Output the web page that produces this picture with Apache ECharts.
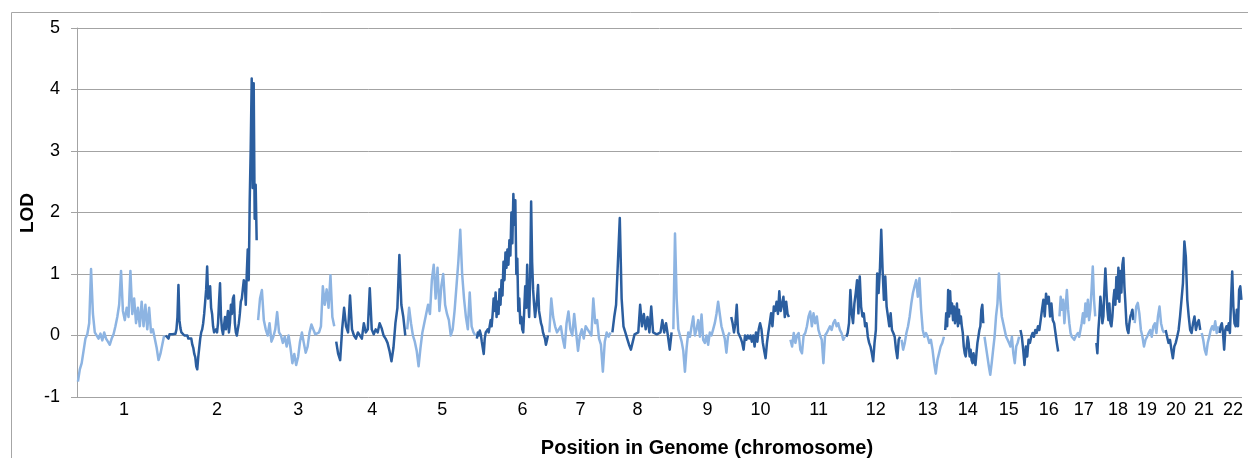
<!DOCTYPE html>
<html>
<head>
<meta charset="utf-8">
<script src="https://cdn.jsdelivr.net/npm/echarts@6/dist/echarts.min.js"></script>
<style>
html,body{margin:0;padding:0;background:#fff;}
#chart{width:1248px;height:458px;}
</style>
</head>
<body>
<div id="chart"></div>
<script>
// Chromosome names, relative lengths (genome position units) and label positions
const chromosomes = ['1','2','3','4','5','6','7','8','9','10','11','12','13','14','15','16','17','18','19','20','21','22'];
const chromLengths = [88,92,78,71,70,72,63,61,58,59,56,55,44,39,36,39,37,38,31,36,18,23];
const labelPositions = [47,140,221,295,365,445,503,560,630,683,741,798,850,890,931,971,1006,1040,1069,1098,1126,1155];
const yTicks = [-1,0,1,2,3,4,5];

// LOD values along each chromosome
const lod1 = [-0.75,-0.55,-0.45,-0.25,-0.05,0.02,0.2,1.08,0.35,0.05,0.02,-0.05,0.03,-0.08,0.05,-0.05,-0.1,-0.15,-0.05,0.02,0.15,0.3,0.5,1.05,0.4,0.25,0.45,0.3,1.05,0.35,0.6,0.2,0.45,0.15,0.55,0.15,0.5,0.1,0.45,0.05,0.1,-0.05,-0.2,-0.4,-0.3,-0.15,0.0];
const lod2 = [0.0,-0.02,0.03,-0.05,0.02,0.0,0.04,0.02,0.05,0.0,0.03,0.1,0.3,0.82,0.25,0.12,0.05,0.02,0.04,0.0,0.02,-0.02,0.0,-0.05,-0.02,-0.08,-0.05,-0.15,-0.2,-0.3,-0.35,-0.5,-0.55,-0.35,-0.2,-0.05,0.05,0.1,0.2,0.35,0.55,0.75,1.12,0.6,0.75,0.8,0.45,0.35,0.15,0.05,0.02,0.1,0.05,0.2,0.55,0.85,0.3,0.1,0.02,0.15,0.3,0.1,0.25,0.4,0.05,0.2,0.5,0.35,0.6,0.65,0.2,0.05,0.0,0.1,0.2,0.35,0.55,0.6,0.75,0.9,0.85,0.5,1.0,1.4,0.9,2.2,3.05,4.18,2.4,4.1,1.9,2.45,1.55];
const lod3 = [0.25,0.6,0.74,0.25,0.1,0.0,0.2,-0.1,-0.02,0.1,0.38,0.05,0.0,-0.12,-0.02,-0.18,0.0,-0.2,-0.45,-0.3,-0.48,-0.35,-0.1,0.05,-0.12,-0.28,-0.18,0.05,0.18,0.1,0.02,0.0,0.05,0.15,0.8,0.5,0.75,0.45,0.98,0.3,0.15];
const lod4 = [-0.1,-0.3,-0.4,0.1,0.45,0.15,0.05,0.65,0.1,0.0,-0.05,0.05,0.08,-0.05,0.2,0.05,0.1,0.77,0.1,0.02,0.1,0.05,0.2,0.12,0.0,-0.05,-0.12,-0.25,-0.42,-0.2,0.2,0.45,1.31,0.5,0.3,0.0];
const lod5 = [0.1,0.45,0.2,0.0,-0.1,-0.25,-0.5,-0.2,0.05,0.2,0.35,0.5,0.35,0.9,1.15,0.6,1.1,0.4,0.8,1.0,0.5,0.35,0.25,0.0,0.1,0.4,0.8,1.2,1.72,1.0,0.6,0.3,0.1,0.7,0.15,0.05,0.0];
const lod6 = [-0.05,0.05,0.0,0.08,0.02,-0.1,-0.2,-0.3,-0.05,0.05,0.02,0.1,0.05,0.15,0.25,0.15,0.35,0.6,0.4,0.7,0.3,0.55,0.35,0.75,0.5,0.9,0.65,1.2,0.9,1.35,1.1,1.4,1.15,1.55,1.3,2.0,1.5,2.3,1.8,2.2,1.0,1.25,0.4,0.6,0.2,0.3,0.1,0.05,0.4,0.8,0.45,1.15,0.6,0.3,0.9,2.18,1.2,0.75,0.5,0.3,0.45,0.6,0.82,0.4,0.3,0.2,0.15,0.05,0.0,-0.05,-0.15,-0.08,0.0];
const lod7 = [0.05,0.6,0.3,0.15,0.05,0.02,0.15,-0.05,-0.2,0.2,0.39,0.1,0.0,0.35,0.05,-0.25,0.0,0.1,-0.05,0.15,0.1,0.05,0.0,0.6,0.2,0.25,-0.05,-0.15,-0.59,-0.1,0.05,-0.02,0.05];
const lod8 = [0.05,0.3,0.5,1.2,1.91,0.6,0.15,0.05,-0.05,-0.15,-0.23,-0.2,0.02,0.0,0.05,0.5,0.15,0.35,0.1,0.3,0.05,0.47,0.05,0.08,0.02,0.0,0.05,0.25,0.05,0.2,0.0,-0.23,0.05];
const lod9 = [0.1,1.66,0.6,0.1,0.0,-0.1,-0.25,-0.59,-0.2,0.05,-0.02,0.15,0.31,0.0,0.1,0.25,-0.02,0.34,-0.07,-0.12,0.0,-0.15,0.05,0.0,0.1,0.2,0.35,0.55,0.35,0.15,0.05,-0.05,-0.28,0.0,0.05];
const lod10 = [0.3,0.2,0.05,0.2,0.5,0.05,0.0,-0.05,-0.12,-0.23,0.0,-0.07,0.0,-0.05,0.0,-0.1,0.0,-0.18,0.05,-0.1,0.1,0.2,0.1,-0.12,-0.25,-0.37,-0.12,0.05,0.2,0.36,0.15,0.47,0.4,0.55,0.35,0.72,0.4,0.5,0.63,0.3,0.55,0.35,0.3];
const lod11 = [-0.07,-0.18,0.04,-0.12,0.0,0.04,-0.23,-0.29,0.0,0.04,0.15,0.31,0.39,0.15,0.36,0.2,0.31,0.09,0.0,-0.07,-0.45,0.0,0.04,0.07,0.15,0.09,0.2,0.25,0.15,0.2,0.09,0.04,-0.07,-0.02];
const lod12 = [-0.02,0.04,0.2,0.74,0.36,0.2,0.52,0.69,0.9,0.36,0.96,0.47,0.31,0.36,0.15,0.2,-0.02,-0.12,-0.18,-0.29,-0.42,-0.12,0.09,1.01,0.69,1.07,1.72,1.07,0.58,0.96,0.47,0.31,0.15,0.36,0.09,0.04,-0.02,-0.23,-0.37,-0.07,-0.02];
const lod13 = [-0.07,-0.23,-0.12,0.04,0.15,0.31,0.52,0.69,0.8,0.9,0.63,0.93,0.42,0.09,-0.02,0.04,-0.02,-0.12,-0.07,-0.23,-0.45,-0.62,-0.4,-0.29,-0.18,-0.12,-0.02];
const lod14 = [0.09,0.36,0.15,0.74,0.31,0.72,0.36,0.52,0.25,0.47,0.2,0.31,0.52,0.15,0.42,0.2,0.31,0.15,0.04,-0.18,-0.29,-0.34,-0.18,-0.02,-0.12,-0.34,-0.23,-0.4,-0.45,-0.29,-0.4,-0.48,-0.29,-0.12,-0.02,0.09,0.15,0.42,0.5,0.2];
const lod15 = [-0.02,-0.18,-0.34,-0.5,-0.64,-0.45,-0.23,-0.02,0.31,0.52,1.01,0.58,0.31,0.2,0.09,-0.02,-0.07,-0.12,-0.18,-0.02,-0.29,-0.45,-0.18,-0.12,-0.02];
const lod16 = [0.09,-0.02,-0.23,-0.48,-0.18,-0.34,-0.07,-0.12,-0.02,0.04,-0.02,0.09,0.04,0.15,0.09,0.25,0.42,0.58,0.31,0.68,0.52,0.63,0.31,0.52,0.25,0.2,0.04,-0.12,-0.26];
const lod17 = [0.31,0.63,0.42,0.58,0.2,0.47,0.74,0.42,0.2,0.04,-0.02,-0.04,-0.07,-0.02,-0.04,0.04,-0.02,0.09,0.2,0.36,0.2,0.52,0.31,0.58,0.25,0.42,0.74,1.12,0.58,0.31];
const lod18 = [-0.12,-0.29,0.09,0.31,0.63,0.47,0.2,0.31,0.74,1.09,0.74,0.42,0.25,0.52,0.2,0.15,0.31,0.58,0.74,0.5,0.95,0.6,1.1,0.55,1.05,0.7,1.15,1.26,0.8,0.52,0.2,0.09,0.04,0.2,0.31,0.36,0.42,0.25];
const lod19 = [0.2,0.47,0.53,0.36,0.09,-0.02,-0.18,-0.07,-0.02,0.04,0.09,-0.02,0.15,0.2,0.04,0.31,0.47,0.2,0.09,0.04];
const lod20 = [0.09,-0.02,-0.12,-0.07,-0.23,-0.37,-0.18,-0.12,-0.02,0.09,0.31,0.58,0.85,1.53,1.28,0.58,0.31,0.09,0.04,0.2,0.31,0.09,0.2,0.25,0.09];
const lod21 = [0.04,-0.07,-0.23,-0.31,-0.12,-0.02,0.09,0.15,0.09,0.23,0.04,0.15];
const lod22 = [0.04,0.15,0.2,0.04,-0.23,0.09,0.15,0.09,0.2,0.04,0.58,1.04,0.47,0.2,0.15,0.42,0.15,0.74,0.8,0.58];

const lodByChrom = [lod1,lod2,lod3,lod4,lod5,lod6,lod7,lod8,lod9,lod10,lod11,lod12,lod13,lod14,lod15,lod16,lod17,lod18,lod19,lod20,lod21,lod22];

const lightBlue = '#8db4e2';
const darkBlue = '#2b5e9f';
const gridColor = '#a3a3a3';
const fontFam = '"Liberation Sans", Arial, sans-serif';

const genomeLength = chromLengths.reduce((a, b) => a + b, 0);
let start = 0;
const series = lodByChrom.map((vals, k) => {
  const len = chromLengths[k];
  const n = vals.length;
  const s0 = start;
  start += len;
  return {
    type: 'line',
    name: 'chr' + chromosomes[k],
    showSymbol: false,
    symbol: 'none',
    smooth: false,
    animation: false,
    clip: false,
    lineStyle: { width: 2.5, color: k % 2 === 0 ? lightBlue : darkBlue, join: 'round' },
    data: vals.map((v, i) => [s0 + (i + 0.5) * len / n, v])
  };
});

const chart = echarts.init(document.getElementById('chart'), null, { renderer: 'canvas' });
chart.setOption({
  animation: false,
  backgroundColor: '#ffffff',
  grid: { left: 77, right: 6, top: 28, bottom: 61, containLabel: false },
  xAxis: {
    type: 'value',
    min: 0,
    max: genomeLength,
    axisLine: { show: true, lineStyle: { color: gridColor, width: 1 } },
    axisTick: { show: false },
    splitLine: { show: false },
    axisLabel: {
      customValues: labelPositions,
      formatter: (v) => {
        const idx = labelPositions.indexOf(v);
        return idx >= 0 ? chromosomes[idx] : '';
      },
      color: '#000',
      fontSize: 18,
      fontFamily: fontFam,
      margin: 4
    }
  },
  yAxis: {
    type: 'value',
    min: yTicks[0],
    max: yTicks[yTicks.length - 1],
    interval: 1,
    axisLine: { show: true, lineStyle: { color: gridColor, width: 1 } },
    axisTick: { show: true, length: 6, lineStyle: { color: gridColor } },
    splitLine: { show: true, lineStyle: { color: gridColor, width: 1 } },
    axisLabel: { color: '#000', fontSize: 18, fontFamily: fontFam, margin: 17 }
  },
  graphic: [
    {
      type: 'rect',
      z: -10,
      silent: true,
      shape: { x: 11.5, y: 12.5, width: 1300, height: 500 },
      style: { fill: 'none', stroke: '#a6a6a6', lineWidth: 1 }
    },
    {
      type: 'text',
      x: 707, y: 448,
      style: { text: 'Position in Genome (chromosome)', font: 'bold 20px ' + fontFam, fill: '#000', textAlign: 'center', textVerticalAlign: 'middle' }
    },
    {
      type: 'text',
      x: 28, y: 213,
      rotation: Math.PI / 2,
      style: { text: 'LOD', font: 'bold 19px ' + fontFam, fill: '#000', textAlign: 'center', textVerticalAlign: 'middle' }
    }
  ],
  series: series
});
</script>
</body>
</html>
